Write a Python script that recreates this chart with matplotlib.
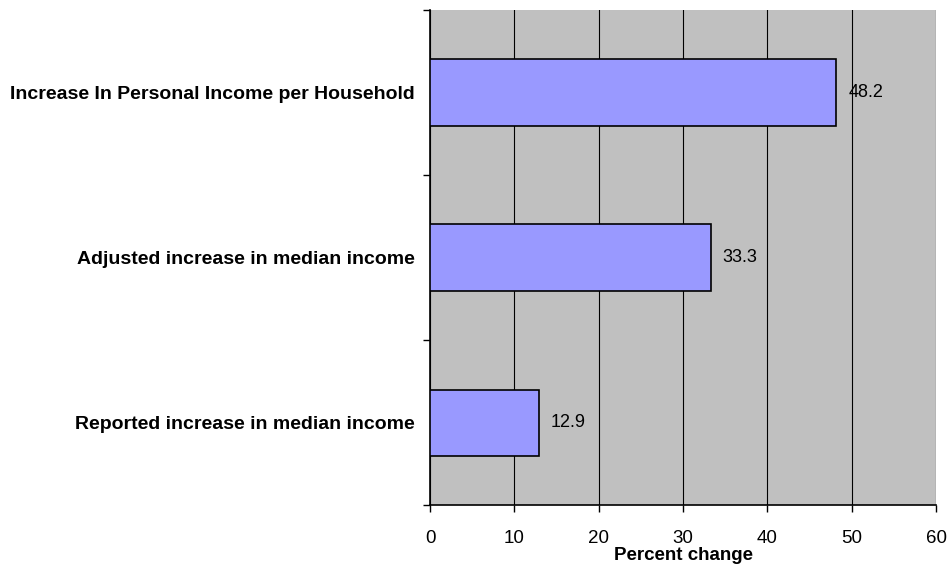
import matplotlib
matplotlib.use("Agg")
import matplotlib.pyplot as plt

# data
categories = ["Reported increase in median income",
              "Adjusted increase in median income",
              "Increase In Personal Income per Household"]
values = [12.9, 33.3, 48.2]
x_ticks = [0, 10, 20, 30, 40, 50, 60]

plt.rcParams['font.family'] = ['Liberation Sans', 'DejaVu Sans']

fig = plt.figure(figsize=(9.51, 5.65), dpi=100)
ax = fig.add_axes([430 / 951, 1 - 505 / 565, 506 / 951, 495 / 565])
ax.set_facecolor('#C0C0C0')

pos = list(range(len(categories)))
ax.barh(pos, values, height=0.4, color='#9999FF', edgecolor='black',
        linewidth=1.2, zorder=3)
for p, v in zip(pos, values):
    ax.text(v + 1.4, p, f"{v}", va='center', ha='left', fontsize=13, zorder=4)

ax.set_xlim(0, 60)
ax.set_ylim(-0.5, len(categories) - 0.5)
ax.set_xticks(x_ticks)
ax.set_xticklabels([str(t) for t in x_ticks], fontsize=13.5)
ax.tick_params(axis='x', direction='out', length=5, pad=13, width=1)
ax.xaxis.grid(True, color='black', linewidth=0.8, zorder=1)
ax.set_axisbelow(True)

# category separators on the y axis, labels centred between them
ax.set_yticks([-0.5, 0.5, 1.5, 2.5])
ax.set_yticklabels([])
ax.set_yticks(pos, minor=True)
ax.set_yticklabels(categories, minor=True, fontsize=14, fontweight='bold')
ax.tick_params(axis='y', which='major', direction='out', length=5, width=1)
ax.tick_params(axis='y', which='minor', length=0, pad=11)

for s in ['top', 'right']:
    ax.spines[s].set_visible(False)
ax.spines['left'].set_linewidth(1.2)
ax.spines['bottom'].set_linewidth(1.2)

ax.set_xlabel("Percent change", fontsize=13.5, fontweight='bold', labelpad=0)

fig.savefig("out.png", dpi=100)
